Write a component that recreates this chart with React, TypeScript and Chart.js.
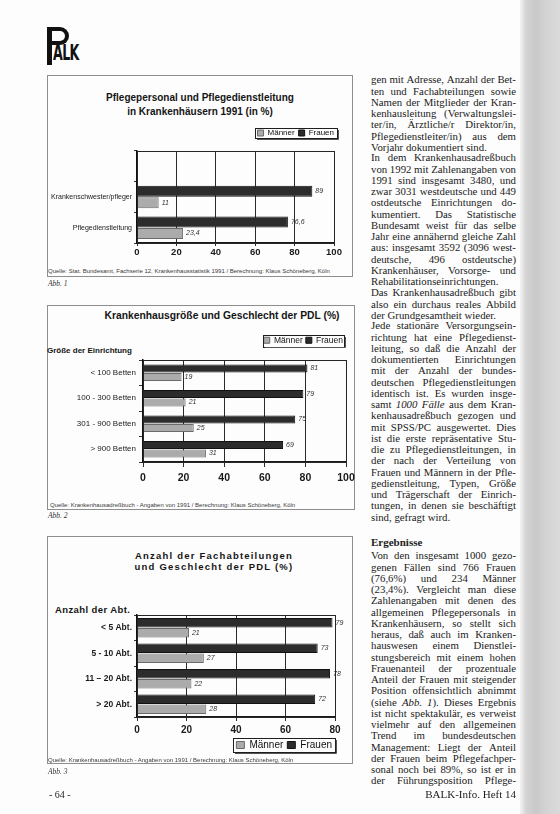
import React, { useEffect, useRef } from 'react';
import { Chart, registerables } from 'chart.js';

Chart.register(...registerables);

// ---------- DATA ----------
const seriesNames = ['Frauen', 'Männer'];

// Abb. 1
const abb1Categories = ['Krankenschwester/pfleger', 'Pflegedienstleitung'];
const abb1Frauen = [89, 76.6];
const abb1Maenner = [11, 23.4];
const abb1Ticks = [0, 20, 40, 60, 80, 100];

// Abb. 2
const abb2Categories = ['< 100 Betten', '100 - 300 Betten', '301 - 900 Betten', '> 900 Betten'];
const abb2Frauen = [81, 79, 75, 69];
const abb2Maenner = [19, 21, 25, 31];
const abb2Ticks = [0, 20, 40, 60, 80, 100];

// Abb. 3
const abb3Categories = ['< 5 Abt.', '5 - 10 Abt.', '11 – 20 Abt.', '> 20 Abt.'];
const abb3Frauen = [79, 73, 78, 72];
const abb3Maenner = [21, 27, 22, 28];
const abb3Ticks = [0, 20, 40, 60, 80];

const abb1Title = ['Pflegepersonal und Pflegedienstleitung', 'in Krankenhäusern 1991 (in %)'];
const abb2Title = ['Krankenhausgröße und Geschlecht der PDL (%)'];
const abb3Title = ['Anzahl der Fachabteilungen', 'und Geschlecht der PDL (%)'];
const abb2AxisHead = 'Größe der Einrichtung';
const abb3AxisHead = 'Anzahl der Abt.';
const abb1Source = 'Quelle: Stat. Bundesamt, Fachserie 12, Krankenhausstatistik 1991 / Berechnung: Klaus Schöneberg, Köln';
const abb2Source = 'Quelle: Krankenhausadreßbuch - Angaben von 1991 / Berechnung: Klaus Schöneberg, Köln';
const abb3Source = 'Quelle: Krankenhausadreßbuch - Angaben von 1991 / Berechnung: Klaus Schöneberg, Köln';

const para1 = [
  'gen mit Adresse, Anzahl der Bet-',
  'ten und Fachabteilungen sowie',
  'Namen der Mitglieder der Kran-',
  'kenhausleitung (Verwaltungslei-',
  'ter/in, Ärztliche/r Direktor/in,',
  'Pflegedienstleiter/in) aus dem',
  'Vorjahr dokumentiert sind.',
];
const para2 = [
  'In dem Krankenhausadreßbuch',
  'von 1992 mit Zahlenangaben von',
  '1991 sind insgesamt 3480, und',
  'zwar 3031 westdeutsche und 449',
  'ostdeutsche Einrichtungen do-',
  'kumentiert. Das Statistische',
  'Bundesamt weist für das selbe',
  'Jahr eine annähernd gleiche Zahl',
  'aus: insgesamt 3592 (3096 west-',
  'deutsche, 496 ostdeutsche)',
  'Krankenhäuser, Vorsorge- und',
  'Rehabilitationseinrichtungen.',
  'Das Krankenhausadreßbuch gibt',
  'also ein durchaus reales Abbild',
  'der Grundgesamtheit wieder.',
];
const para3 = [
  'Jede stationäre Versorgungsein-',
  'richtung hat eine Pflegedienst-',
  'leitung, so daß die Anzahl der',
  'dokumentierten Einrichtungen',
  'mit der Anzahl der bundes-',
  'deutschen Pflegedienstleitungen',
  'identisch ist. Es wurden insge-',
  'samt *1000* *Fälle* aus dem Kran-',
  'kenhausadreßbuch gezogen und',
  'mit SPSS/PC ausgewertet. Dies',
  'ist die erste repräsentative Stu-',
  'die zu Pflegedienstleitungen, in',
  'der nach der Verteilung von',
  'Frauen und Männern in der Pfle-',
  'gedienstleitung, Typen, Größe',
  'und Trägerschaft der Einrich-',
  'tungen, in denen sie beschäftigt',
  'sind, gefragt wird.',
];
const heading = 'Ergebnisse';
const para4 = [
  'Von den insgesamt 1000 gezo-',
  'genen Fällen sind 766 Frauen',
  '(76,6%) und 234 Männer',
  '(23,4%). Vergleicht man diese',
  'Zahlenangaben mit denen des',
  'allgemeinen Pflegepersonals in',
  'Krankenhäusern, so stellt sich',
  'heraus, daß auch im Kranken-',
  'hauswesen einem Dienstlei-',
  'stungsbereich mit einem hohen',
  'Frauenanteil der prozentuale',
  'Anteil der Frauen mit steigender',
  'Position offensichtlich abnimmt',
  '(siehe *Abb.* *1*). Dieses Ergebnis',
  'ist nicht spektakulär, es verweist',
  'vielmehr auf den allgemeinen',
  'Trend im bundesdeutschen',
  'Management: Liegt der Anteil',
  'der Frauen beim Pflegefachper-',
  'sonal noch bei 89%, so ist er in',
  'der Führungsposition Pflege-',
];
const pageNumber = '- 64 -';
const footer = 'BALK-Info. Heft 14';

// ---------- STYLE / LAYOUT ----------
const SANS = "'Liberation Sans', Arial, sans-serif";
const SERIF = "'Liberation Serif', 'Times New Roman', serif";
const FRAUEN_FILL = '#2c2c2c';
const MAENNER_FILL = '#ababab';

type Spec = {
  categories: string[];
  frauen: number[];
  maenner: number[];
  ticks: number[];
  leadingBlank: boolean;
  left: number; top: number; width: number; height: number;
  padding: { top: number; right: number; bottom: number; left: number };
  yWidth: number; yTickLen: number; yTickPad: number; yFont: number; yBold: boolean;
  xHeight: number; xPadRight: number; xTickLen: number; xTickPad: number; xFont: number;
  legendPos: 'top' | 'bottom'; legendFont: number; legendBoxW: number; legendBoxH: number; legendPad: number;
  legendMarginX: number; legendMarginY: number;
  gapTop: number;
  catPct: number; barPct: number;
};

const spec1: Spec = {
  categories: abb1Categories, frauen: abb1Frauen, maenner: abb1Maenner, ticks: abb1Ticks, leadingBlank: true,
  left: 47, top: 125, width: 306, height: 135,
  padding: { top: 0, right: 15, bottom: 0, left: 0 },
  yWidth: 90, yTickLen: 3, yTickPad: 2, yFont: 7, yBold: false,
  xHeight: 17, xPadRight: 19, xTickLen: 3, xTickPad: 1, xFont: 9.5,
  legendPos: 'top', legendFont: 8, legendBoxW: 6, legendBoxH: 6, legendPad: 4, legendMarginX: 3, legendMarginY: 1,
  gapTop: 4,
  catPct: 0.75, barPct: 0.96,
};
const spec2: Spec = {
  categories: abb2Categories, frauen: abb2Frauen, maenner: abb2Maenner, ticks: abb2Ticks, leadingBlank: false,
  left: 47, top: 333, width: 308, height: 151,
  padding: { top: 0, right: 9, bottom: 0, left: 0 },
  yWidth: 96, yTickLen: 4, yTickPad: 3, yFont: 8, yBold: false,
  xHeight: 22, xPadRight: 8, xTickLen: 5, xTickPad: 5, xFont: 10.5,
  legendPos: 'top', legendFont: 8.5, legendBoxW: 6, legendBoxH: 6, legendPad: 3, legendMarginX: 1, legendMarginY: 1.5,
  gapTop: 5.5,
  catPct: 0.66, barPct: 0.96,
};
const spec3: Spec = {
  categories: abb3Categories, frauen: abb3Frauen, maenner: abb3Maenner, ticks: abb3Ticks, leadingBlank: false,
  left: 47, top: 605, width: 306, height: 155,
  padding: { top: 10, right: 17, bottom: 0, left: 0 },
  yWidth: 90, yTickLen: 3, yTickPad: 2, yFont: 8.5, yBold: true,
  xHeight: 19, xPadRight: 18, xTickLen: 4, xTickPad: 3, xFont: 10,
  legendPos: 'bottom', legendFont: 10, legendBoxW: 8, legendBoxH: 7, legendPad: 4, legendMarginX: 3, legendMarginY: 2,
  gapTop: 0,
  catPct: 0.78, barPct: 0.96,
};

const framePlugin = {
  id: 'frame',
  afterDraw(chart: any) {
    const { ctx, chartArea: a } = chart;
    ctx.save();
    ctx.strokeStyle = '#262626';
    ctx.lineWidth = 1;
    ctx.strokeRect(Math.round(a.left) + 0.5, Math.round(a.top) + 0.5, Math.round(a.right - a.left), Math.round(a.bottom - a.top));
    ctx.restore();
  },
};

const valueLabelPlugin = {
  id: 'valueLabels',
  afterDatasetsDraw(chart: any) {
    const { ctx } = chart;
    ctx.save();
    ctx.font = `italic 7px ${SANS}`;
    ctx.fillStyle = '#333';
    ctx.textAlign = 'left';
    ctx.textBaseline = 'middle';
    chart.data.datasets.forEach((ds: any, i: number) => {
      const meta = chart.getDatasetMeta(i);
      meta.data.forEach((el: any, j: number) => {
        const v = ds.data[j];
        if (v === null || v === undefined) return;
        ctx.fillText(String(v).replace('.', ','), el.x + 3, el.y);
      });
    });
    ctx.restore();
  },
};

const legendBoxPlugin = {
  id: 'legendBox',
  afterDraw(chart: any, _args: any, opts: any) {
    const lg = chart.legend;
    if (!lg || !lg.legendHitBoxes || !lg.legendHitBoxes.length) return;
    const hb = lg.legendHitBoxes;
    const mx = opts.mx ?? 3;
    const my = opts.my ?? 1;
    const l = Math.min(...hb.map((h: any) => h.left)) - mx;
    const r = Math.max(...hb.map((h: any) => h.left + h.width)) + mx;
    const t = hb[0].top - my;
    const b = hb[0].top + hb[0].height + my;
    const { ctx } = chart;
    ctx.save();
    ctx.strokeStyle = '#1e1e1e';
    ctx.lineWidth = 1;
    ctx.strokeRect(Math.round(l) + 0.5, Math.round(t) + 0.5, Math.round(r - l), Math.round(b - t));
    ctx.strokeStyle = '#555';
    ctx.beginPath();
    ctx.moveTo(Math.round(l) + 2, Math.round(b) + 1.5);
    ctx.lineTo(Math.round(r) + 1.5, Math.round(b) + 1.5);
    ctx.lineTo(Math.round(r) + 1.5, Math.round(t) + 2);
    ctx.stroke();
    ctx.restore();
  },
};

function buildConfig(s: Spec): any {
  const labels = s.leadingBlank ? ['', ...s.categories] : s.categories;
  const withBlank = (arr: number[]) => (s.leadingBlank ? [null, ...arr] : arr);
  const scales: any = {
    x: {
      type: 'linear',
      min: s.ticks[0],
      max: s.ticks[s.ticks.length - 1],
      ticks: { stepSize: s.ticks[1] - s.ticks[0], font: { family: SANS, size: s.xFont, weight: 'bold' }, color: '#1a1a1a', padding: s.xTickPad },
      grid: { color: '#2a2a2a', lineWidth: 1, drawTicks: true, tickLength: s.xTickLen },
      border: { display: true, color: '#1a1a1a', width: 1.5 },
      afterFit: (sc: any) => { sc.height = s.xHeight; sc.paddingRight = s.xPadRight; sc.paddingLeft = 0; },
    },
    y: {
      type: 'category',
      ticks: { font: { family: SANS, size: s.yFont, weight: s.yBold ? 'bold' : 'normal' }, color: '#1a1a1a', padding: s.yTickPad },
      grid: { drawOnChartArea: false, drawTicks: true, tickLength: s.yTickLen, color: '#333', offset: true },
      border: { display: true, color: '#111', width: 1.5 },
      afterFit: (sc: any) => { sc.width = s.yWidth; sc.paddingTop = 0; sc.paddingBottom = 0; },
    },
  };
  if (s.gapTop > 0) {
    scales.gap = {
      type: 'linear', axis: 'x', position: 'top', display: true,
      ticks: { display: false }, grid: { display: false }, border: { display: false },
      afterFit: (sc: any) => { sc.height = s.gapTop; sc.paddingLeft = 0; sc.paddingRight = 0; },
    };
  }
  return {
    type: 'bar',
    data: {
      labels,
      datasets: [
        {
          label: seriesNames[0], data: withBlank(s.frauen),
          backgroundColor: FRAUEN_FILL, borderColor: '#111', borderWidth: 1,
          categoryPercentage: s.catPct, barPercentage: s.barPct,
        },
        {
          label: seriesNames[1], data: withBlank(s.maenner),
          backgroundColor: MAENNER_FILL, borderColor: '#6a6a6a', borderWidth: 1,
          categoryPercentage: s.catPct, barPercentage: s.barPct,
        },
      ],
    },
    options: {
      indexAxis: 'y',
      animation: false,
      responsive: false,
      maintainAspectRatio: false,
      devicePixelRatio: 1,
      layout: { padding: s.padding },
      plugins: {
        title: { display: false },
        tooltip: { enabled: false },
        legend: {
          display: true, position: s.legendPos, align: 'end', reverse: true,
          labels: {
            font: { family: SANS, size: s.legendFont }, color: '#111',
            boxWidth: s.legendBoxW, boxHeight: s.legendBoxH, padding: s.legendPad,
          },
        },
        legendBox: { mx: s.legendMarginX, my: s.legendMarginY },
      },
      scales,
    },
    plugins: [framePlugin, valueLabelPlugin, legendBoxPlugin],
  };
}

function BarChart({ spec }: { spec: Spec }) {
  const ref = useRef<HTMLCanvasElement | null>(null);
  useEffect(() => {
    if (!ref.current) return;
    const chart = new Chart(ref.current, buildConfig(spec));
    return () => chart.destroy();
  }, [spec]);
  return (
    <canvas
      ref={ref}
      width={spec.width}
      height={spec.height}
      style={{ position: 'absolute', left: spec.left, top: spec.top, width: spec.width, height: spec.height }}
    />
  );
}

// ---------- TEXT HELPERS ----------
const LH = 11.25;
const COL_LEFT = 371;
const COL_WIDTH = 145;

function renderSegments(text: string) {
  const parts = text.split(/(\*[^*]+\*)/).filter((p) => p.length);
  return parts.map((p, i) =>
    p.startsWith('*') && p.endsWith('*') ? <i key={i}>{p.slice(1, -1)}</i> : <React.Fragment key={i}>{p}</React.Fragment>
  );
}

function Paragraph({ lines, firstCenter, lastJustified }: { lines: string[]; firstCenter: number; lastJustified?: boolean }) {
  return (
    <>
      {lines.map((line, i) => {
        const justify = i < lines.length - 1 || !!lastJustified;
        const top = firstCenter + i * LH - LH / 2;
        const base: React.CSSProperties = {
          position: 'absolute', left: COL_LEFT, top, width: COL_WIDTH, height: LH,
          lineHeight: LH + 'px', fontFamily: SERIF, fontSize: 10.8, color: '#1b1b1b', whiteSpace: 'pre',
        };
        if (!justify) return <div key={i} style={base}>{renderSegments(line)}</div>;
        const words = line.split(' ');
        return (
          <div key={i} style={{ ...base, display: 'flex', justifyContent: 'space-between' }}>
            {words.map((w, k) => <span key={k}>{renderSegments(w)}</span>)}
          </div>
        );
      })}
    </>
  );
}

function Abs({ left, top, style, children }: any) {
  return <div style={{ position: 'absolute', left, top, whiteSpace: 'nowrap', ...style }}>{children}</div>;
}

function TitleBlock({ lines, centerX, firstCenter, lineH, style }: any) {
  return (
    <>
      {lines.map((t: string, i: number) => (
        <div key={i} style={{
          position: 'absolute', left: centerX - 150, width: 300, top: firstCenter + i * lineH - lineH / 2,
          height: lineH, lineHeight: lineH + 'px', textAlign: 'center', whiteSpace: 'nowrap',
          fontFamily: SANS, fontWeight: 'bold', color: '#151515', ...style,
        }}>{t}</div>
      ))}
    </>
  );
}

function Frame({ left, top, right, bottom }: any) {
  return (
    <div style={{
      position: 'absolute', left, top, width: right - left, height: bottom - top,
      border: '1px solid #8e8e8e', boxSizing: 'border-box',
    }} />
  );
}

export default function App() {
  const small: React.CSSProperties = { fontFamily: SANS, fontSize: 6, color: '#3a3a3a', lineHeight: '8px' };
  const abb: React.CSSProperties = { fontFamily: SERIF, fontStyle: 'italic', fontSize: 7.5, color: '#333', lineHeight: '9px' };
  return (
    <div style={{ position: 'absolute', left: 0, top: 0, width: 560, height: 814, background: '#fdfdfd', overflow: 'hidden' }}>
      {/* right scan edge */}
      <div style={{
        position: 'absolute', left: 520, top: 0, width: 40, height: 814,
        background: 'linear-gradient(to right, #f4f4f4 0px, #d4d4d4 6px, #c9c9c9 16px, #d3d3d3 26px, #dadada 40px)',
      }} />

      {/* logo */}
      <div style={{ position: 'absolute', left: 47, top: 27, width: 5, height: 38, background: '#111' }} />
      <div style={{
        position: 'absolute', left: 47, top: 27, width: 22, height: 18, boxSizing: 'border-box',
        border: '4px solid #111', borderLeft: 'none', borderRadius: '0 10px 10px 0',
      }} />
      <Abs left={53} top={42} style={{ fontFamily: "'DejaVu Sans', sans-serif", fontWeight: 'bold', fontSize: 21, lineHeight: '23px', color: '#111', transform: 'scaleX(0.6)', transformOrigin: 'left top', letterSpacing: -1 }}>ALK</Abs>

      {/* frames */}
      <Frame left={47} top={75} right={353} bottom={277} />
      <Frame left={47} top={305} right={355} bottom={510} />
      <Frame left={47} top={536} right={353} bottom={764} />

      {/* Abb. 1 */}
      <TitleBlock lines={abb1Title} centerX={200} firstCenter={98} lineH={14} style={{ fontSize: 10 }} />
      <BarChart spec={spec1} />
      <Abs left={48} top={267} style={small}>{abb1Source}</Abs>
      <Abs left={48} top={279} style={abb}>Abb. 1</Abs>

      {/* Abb. 2 */}
      <TitleBlock lines={abb2Title} centerX={222} firstCenter={315} lineH={13} style={{ fontSize: 10.3 }} />
      <Abs left={47} top={346} style={{ fontFamily: SANS, fontWeight: 'bold', fontSize: 8, lineHeight: '10px', color: '#151515' }}>{abb2AxisHead}</Abs>
      <BarChart spec={spec2} />
      <Abs left={50} top={501} style={small}>{abb2Source}</Abs>
      <Abs left={48} top={511} style={abb}>Abb. 2</Abs>

      {/* Abb. 3 */}
      <TitleBlock lines={abb3Title} centerX={214} firstCenter={555} lineH={11} style={{ fontSize: 9.5, letterSpacing: 1.2 }} />
      <Abs left={55} top={604} style={{ fontFamily: SANS, fontWeight: 'bold', fontSize: 9.5, lineHeight: '11px', color: '#151515', letterSpacing: 0.4 }}>{abb3AxisHead}</Abs>
      <BarChart spec={spec3} />
      <Abs left={48} top={756} style={small}>{abb3Source}</Abs>
      <Abs left={48} top={767} style={abb}>Abb. 3</Abs>

      {/* text column */}
      <Paragraph lines={para1} firstCenter={80} />
      <Paragraph lines={para2} firstCenter={158} />
      <Paragraph lines={para3} firstCenter={326} />
      <Abs left={COL_LEFT} top={543 - LH / 2} style={{ fontFamily: SERIF, fontWeight: 'bold', fontSize: 11, lineHeight: LH + 'px', color: '#1b1b1b' }}>{heading}</Abs>
      <Paragraph lines={para4} firstCenter={556} lastJustified />

      {/* footer */}
      <Abs left={49} top={789} style={{ fontFamily: SERIF, fontSize: 10, lineHeight: '12px', color: '#222' }}>{pageNumber}</Abs>
      <div style={{ position: 'absolute', left: 380, width: 136, top: 788, textAlign: 'right', fontFamily: SERIF, fontSize: 11, lineHeight: '13px', color: '#1b1b1b', whiteSpace: 'nowrap' }}>{footer}</div>
    </div>
  );
}
